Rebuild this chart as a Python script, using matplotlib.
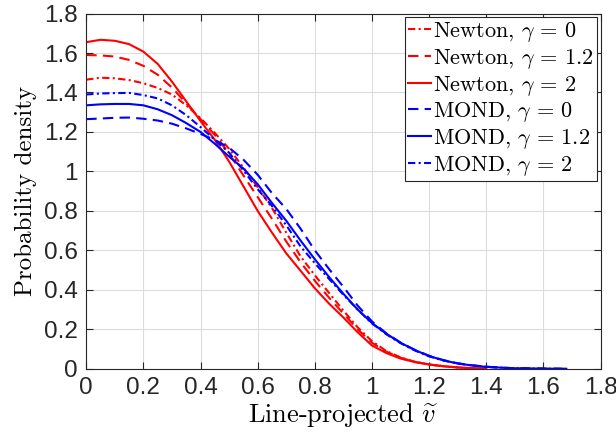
import matplotlib
matplotlib.use("Agg")
from matplotlib import pyplot as plt

# line-projected velocity grids
v_newton = [0.0, 0.05, 0.1, 0.15, 0.2, 0.25, 0.3, 0.35, 0.4, 0.45, 0.5, 0.55, 0.6, 0.65, 0.7,
            0.75, 0.8, 0.85, 0.9, 0.95, 1.0, 1.05, 1.1, 1.15, 1.2, 1.25, 1.3, 1.35, 1.4]
v_mond = [0.0, 0.05, 0.1, 0.15, 0.2, 0.25, 0.3, 0.35, 0.4, 0.45, 0.5, 0.55, 0.6, 0.65, 0.7,
          0.75, 0.8, 0.85, 0.9, 0.95, 1.0, 1.05, 1.1, 1.15, 1.2, 1.25, 1.3, 1.35, 1.4,
          1.45, 1.5, 1.55, 1.6, 1.68]

newton_g0 = [1.465, 1.475, 1.472, 1.463, 1.447, 1.423, 1.39, 1.335, 1.27, 1.195, 1.115, 1.02,
             0.92, 0.815, 0.69, 0.57, 0.474, 0.384, 0.295, 0.21, 0.14, 0.09, 0.058, 0.036,
             0.022, 0.013, 0.007, 0.003, 0.001]
newton_g12 = [1.59, 1.588, 1.582, 1.565, 1.535, 1.49, 1.425, 1.345, 1.265, 1.185, 1.09, 0.98,
              0.87, 0.76, 0.645, 0.54, 0.446, 0.36, 0.28, 0.2, 0.132, 0.087, 0.056, 0.035,
              0.022, 0.013, 0.007, 0.003, 0.001]
newton_g2 = [1.655, 1.667, 1.662, 1.645, 1.607, 1.545, 1.455, 1.355, 1.255, 1.16, 1.05, 0.925,
             0.80, 0.69, 0.585, 0.497, 0.408, 0.33, 0.26, 0.185, 0.118, 0.08, 0.052, 0.034,
             0.022, 0.013, 0.007, 0.003, 0.001]

mond_g0 = [1.265, 1.268, 1.272, 1.273, 1.267, 1.258, 1.242, 1.218, 1.19, 1.16, 1.12, 1.06,
           0.983, 0.89, 0.81, 0.71, 0.60, 0.505, 0.415, 0.32, 0.24, 0.18, 0.133, 0.096,
           0.066, 0.044, 0.028, 0.018, 0.011, 0.006, 0.003, 0.002, 0.001, 0.0]
mond_g12 = [1.335, 1.34, 1.342, 1.342, 1.335, 1.315, 1.285, 1.245, 1.2, 1.14, 1.075, 1.015,
            0.935, 0.84, 0.75, 0.65, 0.555, 0.465, 0.38, 0.30, 0.232, 0.178, 0.132, 0.095,
            0.065, 0.043, 0.027, 0.017, 0.01, 0.006, 0.003, 0.002, 0.001, 0.0]
mond_g2 = [1.39, 1.395, 1.397, 1.398, 1.387, 1.37, 1.335, 1.285, 1.225, 1.16, 1.095, 1.005,
           0.91, 0.825, 0.727, 0.62, 0.535, 0.455, 0.375, 0.30, 0.23, 0.175, 0.13, 0.093,
           0.063, 0.042, 0.027, 0.017, 0.01, 0.006, 0.003, 0.002, 0.001, 0.0]

ticks = [0, 0.2, 0.4, 0.6, 0.8, 1, 1.2, 1.4, 1.6, 1.8]
tick_labels = ['0', '0.2', '0.4', '0.6', '0.8', '1', '1.2', '1.4', '1.6', '1.8']

plt.rcParams['mathtext.fontset'] = 'cm'
plt.rcParams['font.family'] = 'Liberation Sans'

fig = plt.figure(figsize=(6.16, 4.37), dpi=100)
ax = fig.add_axes([0.140, 0.156, 0.835, 0.813])

lw = 1.5
dashdot = (0, (3.5, 1.6, 1.0, 1.6))
ax.plot(v_newton, newton_g0, color='red', ls=dashdot, lw=lw, label=r'Newton, $\gamma\,=\,0$')
ax.plot(v_newton, newton_g12, color='red', ls=(0, (5, 3)), lw=lw, label=r'Newton, $\gamma\,=\,1.2$')
ax.plot(v_newton, newton_g2, color='red', ls='-', lw=lw, label=r'Newton, $\gamma\,=\,2$')
ax.plot(v_mond, mond_g0, color='blue', ls=(0, (5, 3)), lw=lw, label=r'MOND, $\gamma\,=\,0$')
ax.plot(v_mond, mond_g12, color='blue', ls='-', lw=lw, label=r'MOND, $\gamma\,=\,1.2$')
ax.plot(v_mond, mond_g2, color='blue', ls=dashdot, lw=lw, label=r'MOND, $\gamma\,=\,2$')

ax.set_xlim(0, 1.8)
ax.set_ylim(0, 1.8)
ax.set_xticks(ticks)
ax.set_xticklabels(tick_labels)
ax.set_yticks(ticks)
ax.set_yticklabels(tick_labels)
ax.tick_params(direction='in', length=5, width=0.8, labelsize=17.5, colors='#262626',
               top=True, right=True, pad=6)
for s in ax.spines.values():
    s.set_color('#262626')
    s.set_linewidth(0.8)
ax.grid(True, color='#dcdcdc', lw=0.8)
ax.set_axisbelow(True)

ax.set_xlabel(r'Line-projected $\widetilde{v}$', family='cmr10', fontsize=19, labelpad=1)
ax.set_ylabel('Probability density', family='cmr10', fontsize=18, labelpad=5)

leg = ax.legend(loc='upper right', prop={'family': 'cmr10', 'size': 16}, handlelength=1.05,
                handletextpad=0.1, borderpad=0.15, labelspacing=0.12, borderaxespad=0.15,
                fancybox=False, framealpha=1)
leg.get_frame().set_edgecolor('#262626')
leg.get_frame().set_linewidth(0.8)

fig.savefig('out.png', dpi=100)
